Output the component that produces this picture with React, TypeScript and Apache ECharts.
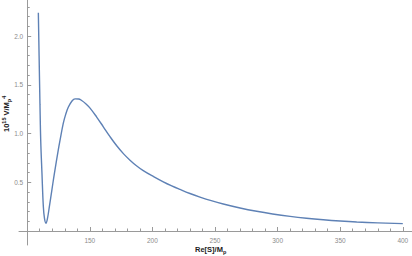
import React, { useEffect, useRef } from "react";
import * as echarts from "echarts";

const xValues = [
  108.9, 109.5, 110.2, 110.8, 111.8, 112.9, 113.8, 115.0, 116.2, 117.7, 119.7, 121.7,
  124.8, 126.2, 128.8, 130.8, 132.8, 135.5, 138.2, 141, 143.5, 147, 150.2, 155.5, 160.8,
  166, 171.5, 177, 182.1, 187, 192.7, 201.3, 208.7, 215, 222, 230, 238, 247, 256.6,
  270, 283.3, 296, 310, 323, 336.5, 350, 363.2, 380, 400,
];
const yValues = [
  2.24, 1.8, 1.3, 0.93, 0.59, 0.25, 0.13, 0.08, 0.13, 0.25, 0.42, 0.59,
  0.83, 0.93, 1.105, 1.2, 1.27, 1.33, 1.357, 1.356, 1.34, 1.305, 1.262, 1.17, 1.07,
  0.971, 0.875, 0.792, 0.727, 0.673, 0.62, 0.556, 0.505, 0.466, 0.427, 0.385, 0.348, 0.311, 0.277,
  0.236, 0.202, 0.175, 0.15, 0.131, 0.115, 0.102, 0.092, 0.083, 0.075,
];
const xTickLabels = [150, 200, 250, 300, 350, 400];
const xMinorTicks = [110, 120, 130, 140, 160, 170, 180, 190, 210, 220, 230, 240, 260, 270, 280, 290, 310, 320, 330, 340, 360, 370, 380, 390];
const yTickLabels = [0.5, 1.0, 1.5, 2.0];
const yMinorTicks = [0.1, 0.2, 0.3, 0.4, 0.6, 0.7, 0.8, 0.9, 1.1, 1.2, 1.3, 1.4, 1.6, 1.7, 1.8, 1.9, 2.1, 2.2, 2.3];

const X_MIN = 93.45;
const X_MAX = 407.35;
const Y_MIN = -0.144;
const Y_MAX = 2.372;

const AXIS_COLOR = "#9a9a9a";
const LABEL_COLOR = "#8c8c8c";
const FONT = "Liberation Sans";

export default function App() {
  const ref = useRef<HTMLDivElement>(null);
  useEffect(() => {
    if (!ref.current) return;
    const chart = echarts.init(ref.current, undefined, { renderer: "svg" });
    const data = xValues.map((x, i) => [x, yValues[i]]);
    const yOffset = -8.2;
    const xOffset = -14;
    chart.setOption({
      animation: false,
      grid: { left: 19, right: 0, top: 0, bottom: 11, containLabel: false },
      xAxis: [
        {
          type: "value",
          min: X_MIN,
          max: X_MAX,
          position: "bottom",
          offset: xOffset,
          axisLine: { show: true, onZero: false, lineStyle: { color: AXIS_COLOR, width: 1 } },
          axisTick: { show: true, inside: true, length: 4, customValues: xTickLabels, lineStyle: { color: AXIS_COLOR } },
          axisLabel: {
            show: true,
            customValues: xTickLabels,
            color: LABEL_COLOR,
            fontSize: 6.5,
            fontFamily: FONT,
            margin: 6,
          },
          splitLine: { show: false },
        },
        {
          type: "value",
          min: X_MIN,
          max: X_MAX,
          position: "bottom",
          offset: xOffset,
          axisLine: { show: false, onZero: false },
          axisTick: { show: true, inside: true, length: 2.5, customValues: xMinorTicks, lineStyle: { color: AXIS_COLOR } },
          axisLabel: { show: false },
          splitLine: { show: false },
        },
      ],
      yAxis: [
        {
          type: "value",
          min: Y_MIN,
          max: Y_MAX,
          position: "left",
          offset: yOffset,
          axisLine: { show: true, onZero: false, lineStyle: { color: AXIS_COLOR, width: 1 } },
          axisTick: { show: true, inside: true, length: 4, customValues: yTickLabels, lineStyle: { color: AXIS_COLOR } },
          axisLabel: {
            show: true,
            customValues: yTickLabels,
            formatter: (v: number) => v.toFixed(1),
            color: LABEL_COLOR,
            fontSize: 6.5,
            fontFamily: FONT,
            margin: 4,
          },
          splitLine: { show: false },
        },
        {
          type: "value",
          min: Y_MIN,
          max: Y_MAX,
          position: "left",
          offset: yOffset,
          axisLine: { show: false, onZero: false },
          axisTick: { show: true, inside: true, length: 2.5, customValues: yMinorTicks, lineStyle: { color: AXIS_COLOR } },
          axisLabel: { show: false },
          splitLine: { show: false },
        },
      ],
      graphic: [
        {
          type: "text",
          left: 195,
          top: 245,
          style: {
            text: "{b|Re[S]/M}{s|p}",
            rich: {
              b: { fontSize: 7.5, fontWeight: "bold", fontFamily: FONT, fill: "#222", lineHeight: 11, verticalAlign: "middle" },
              s: { fontSize: 5.5, fontWeight: "bold", fontFamily: FONT, fill: "#222", lineHeight: 11, verticalAlign: "bottom" },
            },
          },
        },
        {
          type: "text",
          x: 1,
          y: 132,
          rotation: Math.PI / 2,
          style: {
            text: "{s|10}{u|15}{s| V/M}{d|p}{u|4}",
            rich: {
              s: { fontSize: 7.5, fontWeight: "bold", fontFamily: FONT, fill: "#222", lineHeight: 11, verticalAlign: "middle" },
              u: { fontSize: 5.5, fontWeight: "bold", fontFamily: FONT, fill: "#222", lineHeight: 11, verticalAlign: "top" },
              d: { fontSize: 5.5, fontWeight: "bold", fontFamily: FONT, fill: "#222", lineHeight: 11, verticalAlign: "bottom" },
            },
          },
        },
      ],
      series: [
        {
          type: "line",
          xAxisIndex: 0,
          yAxisIndex: 0,
          data,
          smooth: 0.4,
          showSymbol: false,
          lineStyle: { color: "#5e81b5", width: 1.4 },
        },
      ],
    });
    return () => chart.dispose();
  }, []);
  return <div ref={ref} style={{ width: 412, height: 256, position: "absolute", left: 0, top: 0 }} />;
}
